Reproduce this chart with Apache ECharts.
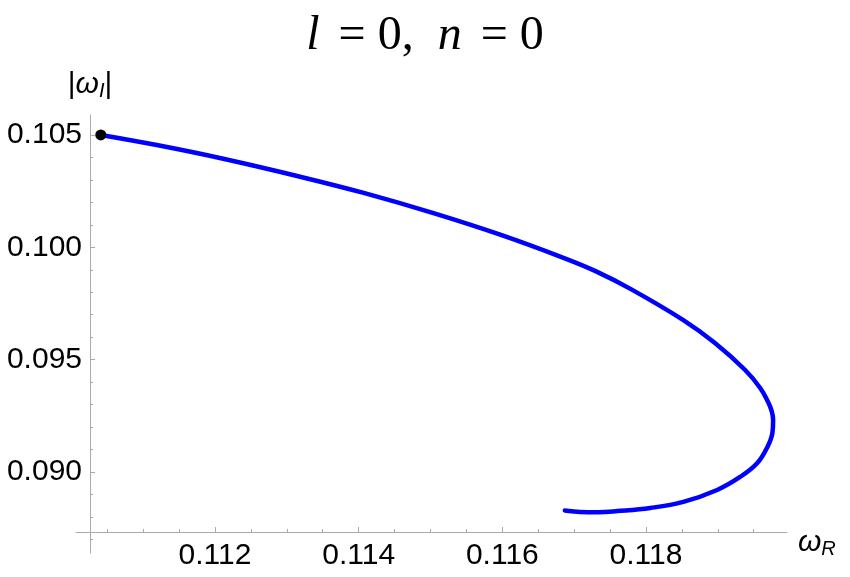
<!DOCTYPE html>
<html>
<head>
<meta charset="utf-8">
<script src="https://cdn.jsdelivr.net/npm/echarts@6/dist/echarts.min.js"></script>
<style>html,body{margin:0;padding:0;background:#fff}#c{width:850px;height:577px}</style>
</head>
<body>
<div id="c"></div>
<script>
// Data
const omegaR = [0.11041, 0.11119, 0.11213, 0.11320, 0.11407, 0.11503, 0.11598, 0.11686, 0.11729, 0.11779,
  0.11852, 0.11896, 0.11938, 0.11959, 0.11970, 0.11975, 0.11977, 0.11976, 0.11969, 0.11955, 0.11931,
  0.11899, 0.11852, 0.11806, 0.11760, 0.11733, 0.11708, 0.11697, 0.11687];
const omegaI = [0.10500, 0.10455, 0.10393, 0.10313, 0.10242, 0.10153, 0.10055, 0.09952, 0.09895, 0.09814,
  0.09676, 0.09574, 0.09454, 0.09374, 0.09312, 0.09271, 0.09231, 0.09174, 0.09111, 0.09040, 0.08978,
  0.08920, 0.08867, 0.08840, 0.08826, 0.08821, 0.08822, 0.08825, 0.08829];
const xMajorTicks = [0.112, 0.114, 0.116, 0.118];
const xMinorTicks = [0.1105, 0.111, 0.1115, 0.1125, 0.113, 0.1135, 0.1145, 0.115, 0.1155,
  0.1165, 0.117, 0.1175, 0.1185, 0.119, 0.1195];
const yMajorTicks = [0.090, 0.095, 0.100, 0.105];
const yMinorTicks = [0.087, 0.088, 0.089, 0.091, 0.092, 0.093, 0.094, 0.096, 0.097, 0.098, 0.099,
  0.101, 0.102, 0.103, 0.104];
const xRange = [0.110065, 0.119963];
const yRange = [0.086395, 0.105888];

const curve = omegaR.map((x, i) => [x, omegaI[i]]);
const startPoint = [[omegaR[0], omegaI[0]]];

const axisGray = '#aaaaaa';
const sans = 'Liberation Sans, Arial, sans-serif';
const serif = 'Liberation Serif, Times New Roman, serif';
const labelFont = {fontFamily: sans, fontSize: 30, color: '#000'};

const chart = echarts.init(document.getElementById('c'), null, {renderer: 'canvas'});
chart.setOption({
  animation: false,
  backgroundColor: '#ffffff',
  title: {
    text: '{i|l}{e|=}{t|0,}{g|}{i|n}{e|=}{t|0}',
    left: 'center',
    top: 12,
    padding: 0,
    textStyle: {
      fontFamily: serif, fontSize: 48, fontWeight: 'normal', color: '#000',
      rich: {
        i: {fontFamily: serif, fontSize: 48, fontStyle: 'italic', color: '#000'},
        t: {fontFamily: serif, fontSize: 48, color: '#000'},
        e: {fontFamily: serif, fontSize: 48, color: '#000', padding: [0, 12, 0, 19]},
        g: {width: 24}
      }
    }
  },
  grid: {left: 76, right: 63, top: 115, bottom: 24, containLabel: false, outerBoundsMode: 'none'},
  xAxis: [{
    type: 'value', position: 'bottom', offset: -21,
    min: xRange[0], max: xRange[1],
    axisLine: {show: true, onZero: false, lineStyle: {color: axisGray, width: 1}},
    axisTick: {show: true, inside: true, length: 5, customValues: xMajorTicks, lineStyle: {color: axisGray}},
    axisLabel: {show: true, customValues: xMajorTicks, margin: 9, formatter: v => v.toFixed(3), ...labelFont},
    splitLine: {show: false},
    name: '{w|ω}{s|R}',
    nameLocation: 'end', nameGap: 11,
    nameTextStyle: {
      padding: [22, 0, 0, 0],
      rich: {
        w: {fontFamily: sans, fontSize: 30, fontStyle: 'italic', color: '#000'},
        s: {fontFamily: sans, fontSize: 20, fontStyle: 'italic', color: '#000', padding: [12, 0, 0, 0]}
      }
    }
  }, {
    type: 'value', position: 'bottom', offset: -21,
    min: xRange[0], max: xRange[1],
    axisLine: {show: false, onZero: false},
    axisTick: {show: true, inside: true, length: 3, customValues: xMinorTicks, lineStyle: {color: axisGray}},
    axisLabel: {show: false},
    splitLine: {show: false}
  }],
  yAxis: [{
    type: 'value', position: 'left', offset: -14,
    min: yRange[0], max: yRange[1],
    axisLine: {show: true, onZero: false, lineStyle: {color: axisGray, width: 1}},
    axisTick: {show: true, inside: true, length: 5, customValues: yMajorTicks, lineStyle: {color: axisGray}},
    axisLabel: {show: true, customValues: yMajorTicks, margin: 8, formatter: v => v.toFixed(3), ...labelFont},
    splitLine: {show: false},
    name: '|{w|ω}{s|I}|',
    nameLocation: 'end', nameGap: 14,
    nameTextStyle: {
      fontFamily: sans, fontSize: 30, color: '#000',
      rich: {
        w: {fontFamily: sans, fontSize: 30, fontStyle: 'italic', color: '#000'},
        s: {fontFamily: sans, fontSize: 20, fontStyle: 'italic', color: '#000', padding: [12, 0, 0, 0]}
      }
    }
  }, {
    type: 'value', position: 'left', offset: -14,
    min: yRange[0], max: yRange[1],
    axisLine: {show: false, onZero: false},
    axisTick: {show: true, inside: true, length: 3, customValues: yMinorTicks, lineStyle: {color: axisGray}},
    axisLabel: {show: false},
    splitLine: {show: false}
  }],
  series: [{
    type: 'line',
    xAxisIndex: 0, yAxisIndex: 0,
    data: curve,
    showSymbol: false,
    smooth: 0.4,
    lineStyle: {color: '#0000ff', width: 4.5, cap: 'round', join: 'round'},
    clip: false,
    z: 2
  }, {
    type: 'scatter',
    xAxisIndex: 0, yAxisIndex: 0,
    data: startPoint,
    symbol: 'circle',
    symbolSize: 11,
    itemStyle: {color: '#000', opacity: 1},
    z: 3
  }]
});
</script>
</body>
</html>
